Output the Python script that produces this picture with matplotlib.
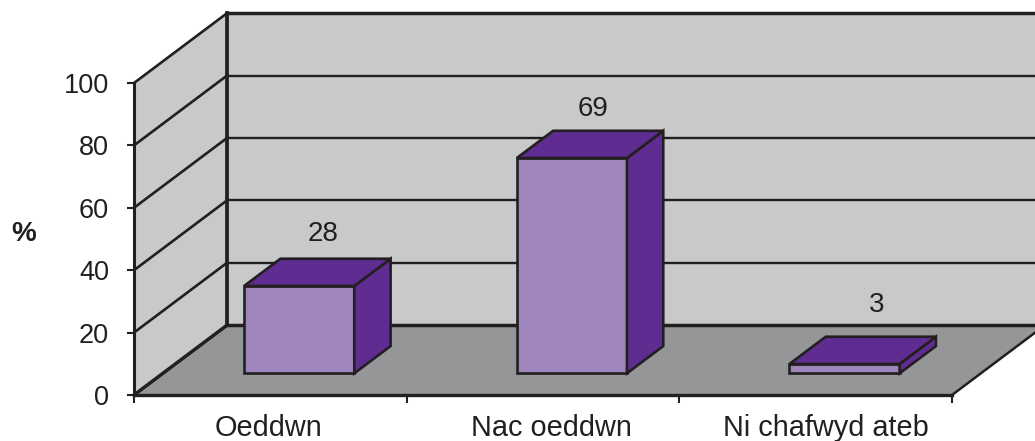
import matplotlib.pyplot as plt
from matplotlib.patches import Polygon
from matplotlib.ticker import FixedLocator

plt.rcParams['font.family'] = ['Liberation Sans', 'DejaVu Sans']

categories = ["Oeddwn", "Nac oeddwn", "Ni chafwyd ateb"]
values = [28, 69, 3]
y_ticks = [0, 20, 40, 60, 80, 100]

# colours
WALL = '#c8c9cb'
FLOOR = '#959698'
FRONT = '#9e86bd'
SIDE = '#5f2d91'
INK = '#231f20'

# how far the back wall is shifted from the front plane, in data units
DEPTH_X = 0.3415
DEPTH_Y = 22.4

BAR_WIDTH = 0.404
BAR_Z0 = 0.31
BAR_Z1 = 0.70


def proj(x, y, z=0.0):
    return (x + z * DEPTH_X, y + z * DEPTH_Y)


fig = plt.figure(figsize=(10.35, 4.41), dpi=100)
ax = fig.add_axes([134 / 1035, 46 / 441, 818 / 1035, 312 / 441])
ax.set_xlim(0, 3)
ax.set_ylim(0, 100)
ax.patch.set_visible(False)
for s in ax.spines.values():
    s.set_visible(False)


def poly(pts, fc, lw=1.9, z=1):
    ax.add_patch(Polygon(pts, closed=True, facecolor=fc, edgecolor=INK, linewidth=lw,
                         joinstyle='miter', clip_on=False, zorder=z))


def line(pts, lw=1.7, z=2):
    xs, ys = zip(*pts)
    ax.plot(xs, ys, color=INK, linewidth=lw, clip_on=False, zorder=z,
            solid_capstyle='projecting')


# walls and floor
ax.add_patch(Polygon([proj(0, 0), proj(0, 100), proj(0, 100, 1), proj(0, 0, 1)],
                     facecolor=WALL, edgecolor='none', clip_on=False, zorder=1))
ax.add_patch(Polygon([proj(0, 0, 1), proj(0, 100, 1), proj(3, 100, 1), proj(3, 0, 1)],
                     facecolor=WALL, edgecolor='none', clip_on=False, zorder=1))
ax.add_patch(Polygon([proj(0, 0), proj(3, 0), proj(3, 0, 1), proj(0, 0, 1)],
                     facecolor=FLOOR, edgecolor='none', clip_on=False, zorder=1))

# gridlines run across the side wall and then along the back wall
for t in y_ticks:
    lw = 2.5 if t in (0, 100) else 1.7
    line([proj(0, t), proj(0, t, 1)], lw=1.9 if t else 2.5)
    line([proj(0, t, 1), proj(3, t, 1)], lw=lw)

# wall edges
line([proj(0, 0), proj(0, 100)], lw=2.2, z=3)
line([proj(0, 0, 1), proj(0, 100, 1)], lw=2.7, z=3)
line([proj(0, 0), proj(3, 0)], lw=2.4, z=3)
line([proj(3, 0), proj(3, 0, 1)], lw=1.8, z=3)

# bars
for i, v in enumerate(values):
    x0 = i + 0.5 - BAR_WIDTH / 2
    x1 = i + 0.5 + BAR_WIDTH / 2
    poly([proj(x0, 0, BAR_Z0), proj(x1, 0, BAR_Z0), proj(x1, v, BAR_Z0), proj(x0, v, BAR_Z0)],
         FRONT, z=5)
    poly([proj(x1, 0, BAR_Z0), proj(x1, 0, BAR_Z1), proj(x1, v, BAR_Z1), proj(x1, v, BAR_Z0)],
         SIDE, z=5)
    poly([proj(x0, v, BAR_Z0), proj(x1, v, BAR_Z0), proj(x1, v, BAR_Z1), proj(x0, v, BAR_Z1)],
         SIDE, z=5)

# value labels sit above the back edge of each bar
label_nudge = [(24, 52), (21, 49), (32, 59)]
for i, v in enumerate(values):
    ax.annotate(str(v), xy=proj(i + 0.5, v, BAR_Z1 - 0.39), xytext=label_nudge[i],
                textcoords='offset pixels', ha='center', va='center', fontsize=20,
                color=INK, annotation_clip=False, zorder=6)

# axes ticks and labels
ax.set_yticks(y_ticks)
ax.tick_params(axis='y', length=5, width=1.5, color=INK, labelcolor=INK, labelsize=19.5, pad=13)
ax.xaxis.set_major_locator(FixedLocator([0, 1, 2, 3]))
ax.set_xticklabels([])
ax.xaxis.set_minor_locator(FixedLocator([0.495, 1.53, 2.537]))
ax.set_xticklabels(categories, minor=True)
ax.tick_params(axis='x', which='major', length=5.5, width=1.5, color=INK)
ax.tick_params(axis='x', which='minor', length=0, labelcolor=INK, labelsize=20.8, pad=14)

fig.text(24 / 1035, 1 - 234 / 441, "%", fontsize=20, fontweight='bold', color=INK,
         ha='center', va='center')

fig.savefig('out.png', dpi=100, facecolor='white')
